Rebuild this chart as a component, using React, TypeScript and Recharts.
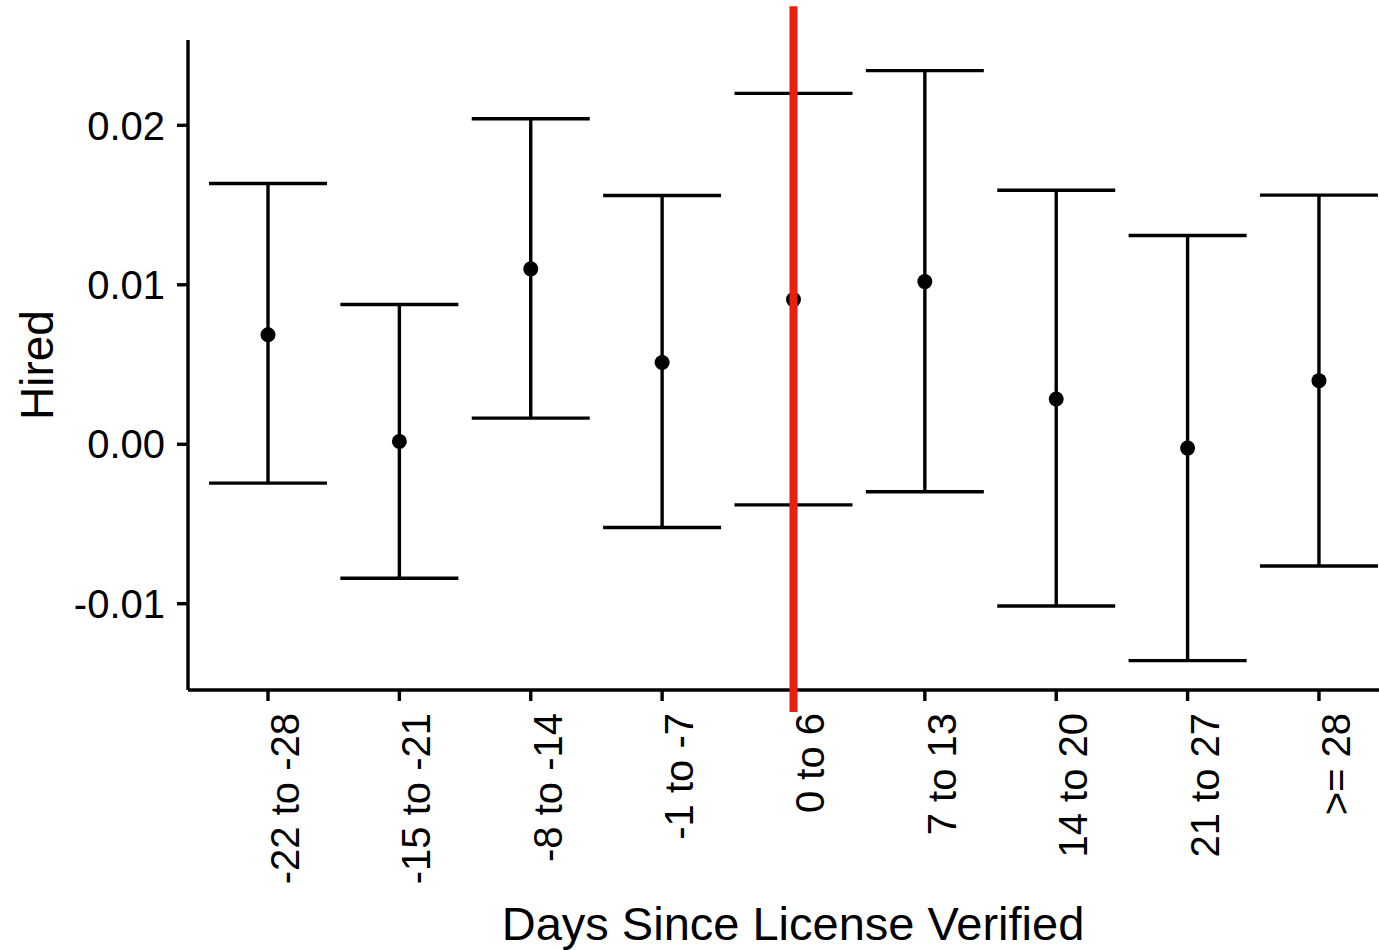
import React from 'react';
import {
  ComposedChart,
  Scatter,
  XAxis,
  YAxis,
  ErrorBar,
  ReferenceLine,
  Label,
} from 'recharts';

const FONT = '"Liberation Sans", Arial, Helvetica, sans-serif';

// Categories (x-axis tick labels)
const categories = [
  '-22 to -28',
  '-15 to -21',
  '-8 to -14',
  '-1 to -7',
  '0 to 6',
  '7 to 13',
  '14 to 20',
  '21 to 27',
  '>= 28',
];

// Point estimates
const estimates = [0.00687, 0.00018, 0.011, 0.00513, 0.00907, 0.0102, 0.00284, -0.00024, 0.00399];
// Lower CI bounds
const lowerBounds = [-0.00244, -0.0084, 0.00164, -0.00522, -0.0038, -0.00298, -0.01014, -0.01357, -0.00763];
// Upper CI bounds
const upperBounds = [0.01635, 0.00876, 0.02041, 0.0156, 0.022, 0.02343, 0.01593, 0.01309, 0.01562];

// Y-axis ticks
const yTicks = [-0.01, 0, 0.01, 0.02];
// x positions of categories
const xTicks = categories.map((_, i) => i + 1);

// Category where the red vertical marker sits
const markerCategory = '0 to 6';

const data = categories.map((c, i) => ({
  x: i + 1,
  label: c,
  y: estimates[i],
  err: [estimates[i] - lowerBounds[i], upperBounds[i] - estimates[i]],
}));

const XTick = (props: any) => {
  const { x, y, payload } = props;
  return (
    <g transform={`translate(${x + 31},${y + 12})`}>
      <text transform="rotate(-90)" textAnchor="end" fontSize={40} fill="#000" fontFamily={FONT}>
        {categories[payload.value - 1]}
      </text>
    </g>
  );
};

const Dot = (props: any) => {
  const { cx, cy } = props;
  return <circle cx={cx} cy={cy} r={7.5} fill="#000" />;
};

export default function App() {
  const markerX = categories.indexOf(markerCategory) + 1;
  return (
    <div style={{ position: 'absolute', left: 0, top: 0, width: 1379, height: 950, background: '#fff' }}>
      <ComposedChart
        width={1379}
        height={950}
        data={data}
        margin={{ top: 40, right: 0, bottom: 0, left: 0 }}
      >
        <XAxis
          type="number"
          dataKey="x"
          domain={[0.391, 9.457]}
          ticks={xTicks}
          interval={0}
          allowDataOverflow
          height={260}
          tickSize={11}
          tickMargin={0}
          axisLine={{ stroke: '#000', strokeWidth: 3.4 }}
          tickLine={{ stroke: '#000', strokeWidth: 3.4 }}
          tick={<XTick />}
        >
          <Label
            content={() => (
              <text x={793} y={940} textAnchor="middle" fontSize={47} fill="#000" fontFamily={FONT}>
                Days Since License Verified
              </text>
            )}
          />
        </XAxis>
        <YAxis
          type="number"
          domain={[-0.01541, 0.02535]}
          ticks={yTicks}
          allowDataOverflow
          width={188}
          tickSize={11}
          tickMargin={12}
          tickFormatter={(v: number) => v.toFixed(2)}
          axisLine={{ stroke: '#000', strokeWidth: 3.4 }}
          tickLine={{ stroke: '#000', strokeWidth: 3.4 }}
          tick={{ fill: '#000', fontSize: 40, fontFamily: FONT }}
        >
          <Label
            content={(p: any) => {
              const vb = p.viewBox || { x: 0, y: 40, width: 188, height: 650 };
              const cy = vb.y + vb.height / 2;
              return (
                <text
                  transform={`translate(53,${cy}) rotate(-90)`}
                  textAnchor="middle"
                  fontSize={46}
                  fill="#000"
                  fontFamily={FONT}
                >
                  Hired
                </text>
              );
            }}
          />
        </YAxis>
        <Scatter dataKey="y" isAnimationActive={false} shape={<Dot />}>
          <ErrorBar dataKey="err" direction="y" width={59} stroke="#000" strokeWidth={3.4} isAnimationActive={false} />
        </Scatter>
        <ReferenceLine
          ifOverflow="visible"
          zIndex={2000}
          segment={[
            { x: markerX, y: 0.02746 },
            { x: markerX, y: -0.01679 },
          ]}
          stroke="#EA1F0C"
          strokeWidth={8}
        />
      </ComposedChart>
    </div>
  );
}
